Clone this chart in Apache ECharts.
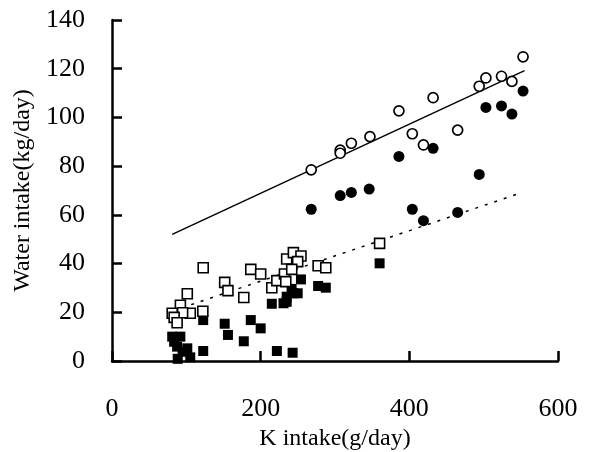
<!DOCTYPE html>
<html><head><meta charset="utf-8">
<script src="https://cdn.jsdelivr.net/npm/echarts@6/dist/echarts.min.js"></script>
<style>html,body{margin:0;padding:0;background:#fff}#c{width:596px;height:452px}</style>
</head><body><div id="c"></div>
<script>
// Open circles
const openCircleX = [268, 307, 307, 322, 347, 386, 404, 419, 432, 465, 494, 503, 524, 538, 553];
const openCircleY = [78.5, 86.6, 85.3, 89.4, 92.1, 102.7, 93.3, 88.7, 108.1, 94.8, 112.8, 116.2, 116.9, 114.8, 124.9];
// Filled circles
const filledCircleX = [268, 307, 322, 346, 386, 404, 419, 432, 465, 494, 503, 524, 538, 553];
const filledCircleY = [62.3, 67.9, 69.2, 70.6, 84.0, 62.3, 57.6, 87.3, 61.0, 76.6, 104.1, 104.7, 101.4, 110.8];
// Open squares
const openSquareX = [122.7, 186.7, 200, 151.6, 156, 101.3, 177.3, 92, 122.2, 105.3, 95, 81, 83.6, 87.6, 215, 221.8, 232, 233.8, 235, 244, 254.2, 249.8, 241.8, 277.3, 287.6, 360];
const openSquareY = [38.3, 37.6, 35.7, 32.3, 28.9, 27.6, 26.1, 22.9, 20.4, 19.6, 19.8, 19.6, 17.9, 15.7, 30.1, 33.0, 35.7, 32.6, 41.9, 44.5, 43.1, 40.8, 37.6, 39.1, 38.3, 48.3];
// Filled squares
const filledSquareX = [122.7, 151.6, 156, 186.7, 200, 177.3, 122.7, 221.8, 243, 215, 230.7, 235, 244, 249.8, 254.2, 241.6, 235, 277.3, 287.6, 360, 81, 92, 83.6, 87.6, 101.3, 95, 105.3, 88.4];
const filledSquareY = [16.8, 15.3, 10.7, 16.8, 13.4, 8.1, 4.1, 4.1, 3.4, 23.5, 23.7, 26.4, 27.8, 27.8, 33.5, 29.6, 24.3, 30.8, 30.1, 40.1, 10.0, 10.0, 7.9, 5.9, 5.2, 3.8, 1.5, 0.9];
// Regression line endpoints
const solidLineX = [81, 555];
const solidLineY = [52.0, 119.2];
const dottedLineX = [81, 550];
const dottedLineY = [20.5, 69.0];
// Axis ticks
const xTicks = [0, 200, 400, 600];
const yTicks = [0, 20, 40, 60, 80, 100, 120, 140];

const zip = (a, b) => a.map((v, i) => [v, b[i]]);
const font = 'Liberation Serif';
const chart = echarts.init(document.getElementById('c'), null, {renderer: 'canvas'});
const axisCommon = {
  axisLine: {show: true, onZero: false, lineStyle: {color: '#000', width: 2.5}},
  axisTick: {show: true, inside: true, length: 10, lineStyle: {color: '#000', width: 2.5}},
  splitLine: {show: false},
  nameTextStyle: {fontFamily: font, fontSize: 24, color: '#000'},
  axisLabel: {fontFamily: font, fontSize: 26, color: '#000'}
};
chart.setOption({
  animation: false,
  backgroundColor: '#fff',
  grid: {left: 112, right: 38, top: 20, bottom: 91, containLabel: false, outerBoundsMode: 'none'},
  xAxis: Object.assign({}, axisCommon, {
    type: 'value', min: xTicks[0], max: xTicks[xTicks.length - 1], interval: 200,
    name: 'K intake(g/day)', nameLocation: 'middle', nameGap: 63,
    axisLabel: Object.assign({}, axisCommon.axisLabel, {margin: 35})
  }),
  yAxis: Object.assign({}, axisCommon, {
    type: 'value', min: yTicks[0], max: yTicks[yTicks.length - 1], interval: 20,
    name: 'Water intake(kg/day)', nameLocation: 'middle', nameGap: 71,
    axisLabel: Object.assign({}, axisCommon.axisLabel, {margin: 27})
  }),
  series: [
    {type: 'line', data: zip(solidLineX, solidLineY), symbol: 'none', lineStyle: {color: '#000', width: 1.5}, z: 1},
    {type: 'line', data: zip(dottedLineX, dottedLineY), symbol: 'none', lineStyle: {color: '#000', width: 1.5, type: [3, 7]}, z: 1},
    {type: 'scatter', data: zip(filledSquareX, filledSquareY), symbol: 'rect', symbolSize: 10, itemStyle: {color: '#000', opacity: 1}, z: 2},
    {type: 'scatter', data: zip(openSquareX, openSquareY), symbol: 'rect', symbolSize: 10, itemStyle: {color: '#fff', borderColor: '#000', borderWidth: 1.6, opacity: 1}, z: 3},
    {type: 'scatter', data: zip(filledCircleX, filledCircleY), symbol: 'circle', symbolSize: 11, itemStyle: {color: '#000', opacity: 1}, z: 4},
    {type: 'scatter', data: zip(openCircleX, openCircleY), symbol: 'circle', symbolSize: 10, itemStyle: {color: '#fff', borderColor: '#000', borderWidth: 1.7, opacity: 1}, z: 5}
  ]
});
</script></body></html>
